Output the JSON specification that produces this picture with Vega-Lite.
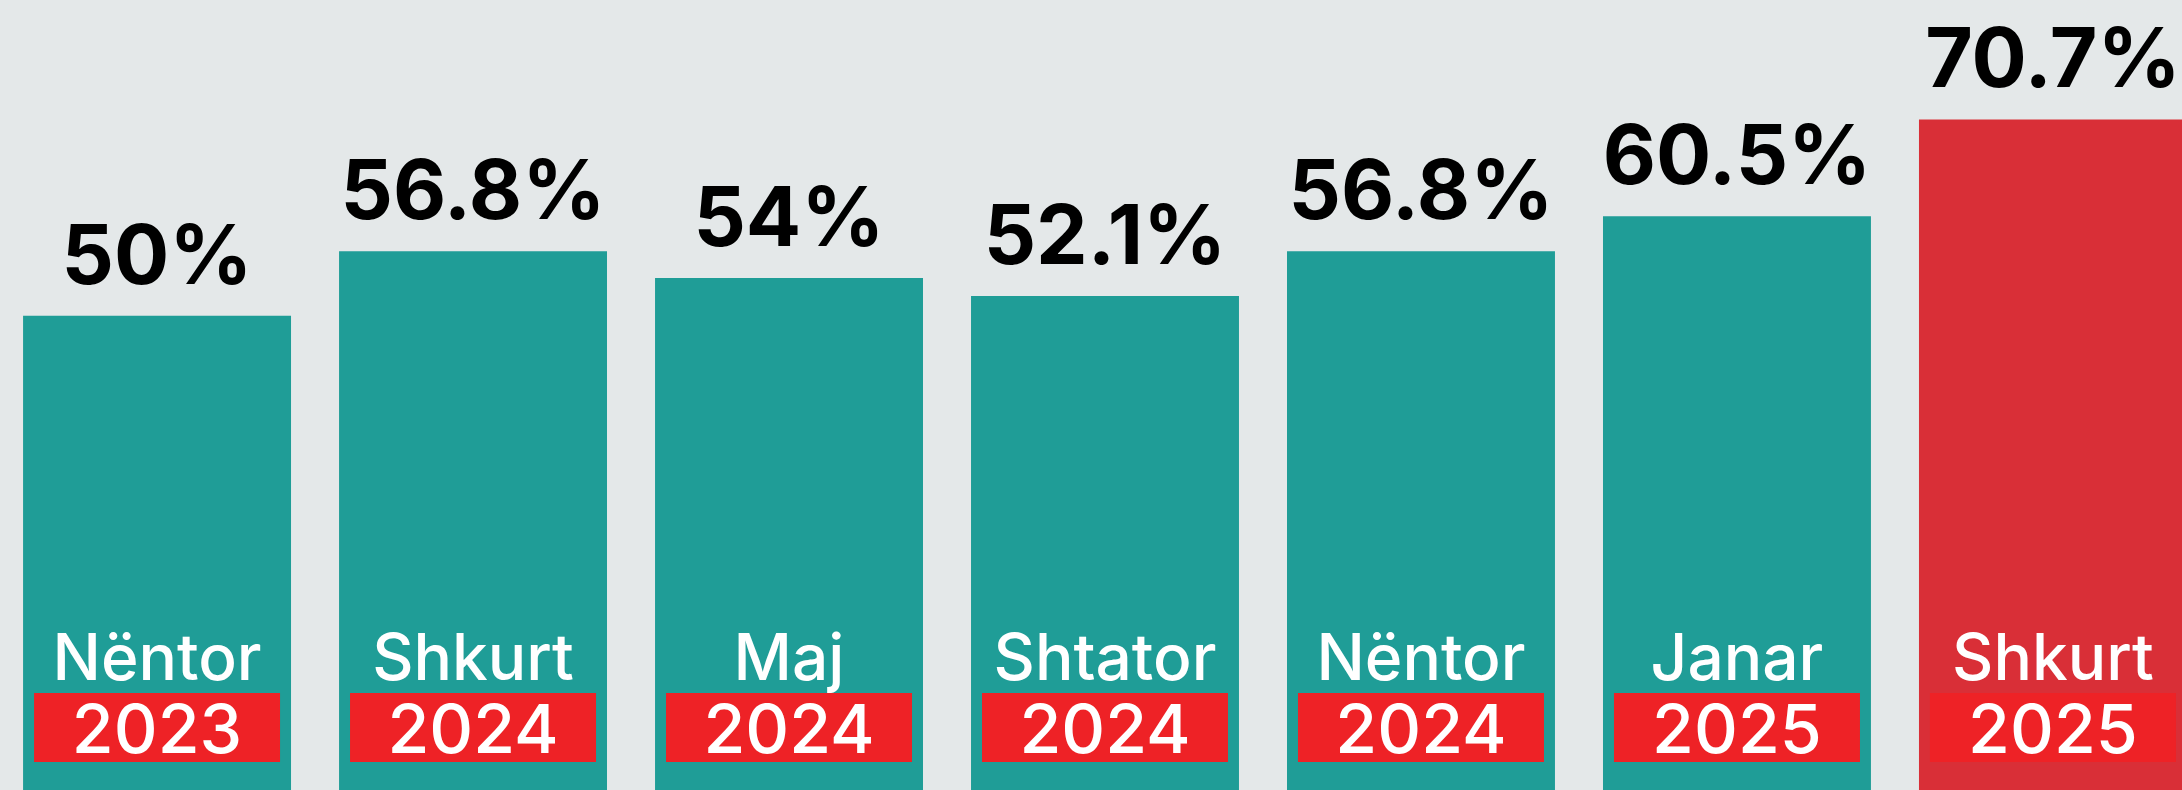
{
  "$schema": "https://vega.github.io/schema/vega-lite/v6.json",
  "width": 2182,
  "height": 790,
  "autosize": {"type": "none"},
  "padding": 0,
  "background": "#e4e8e9",
  "config": {"view": {"stroke": null}},
  "data": {"values": [
    {"period": "Nëntor 2023", "month": "Nëntor", "year": "2023", "value": 50, "label": "50%", "group": "past"},
    {"period": "Shkurt 2024", "month": "Shkurt", "year": "2024", "value": 56.8, "label": "56.8%", "group": "past"},
    {"period": "Maj 2024", "month": "Maj", "year": "2024", "value": 54, "label": "54%", "group": "past"},
    {"period": "Shtator 2024", "month": "Shtator", "year": "2024", "value": 52.1, "label": "52.1%", "group": "past"},
    {"period": "Nëntor 2024", "month": "Nëntor", "year": "2024", "value": 56.8, "label": "56.8%", "group": "past"},
    {"period": "Janar 2025", "month": "Janar", "year": "2025", "value": 60.5, "label": "60.5%", "group": "past"},
    {"period": "Shkurt 2025", "month": "Shkurt", "year": "2025", "value": 70.7, "label": "70.7%", "group": "latest"}
  ]},
  "encoding": {
    "x": {"field": "period", "type": "nominal", "sort": null, "axis": null,
          "scale": {"range": [0, 2210], "paddingInner": 0.152, "paddingOuter": 0.073}}
  },
  "layer": [
    {
      "mark": {"type": "bar"},
      "encoding": {
        "y": {"field": "value", "type": "quantitative", "axis": null,
              "scale": {"domain": [0, 83.3], "nice": false, "zero": true}},
        "color": {"field": "group", "type": "nominal", "legend": null,
                  "scale": {"domain": ["past", "latest"], "range": ["#1f9d97", "#d92f37"]}}
      }
    },
    {
      "mark": {"type": "text", "font": "Inter", "fontSize": 82, "fontWeight": "bold", "baseline": "alphabetic", "dy": -32, "color": "#000000"},
      "encoding": {
        "y": {"field": "value", "type": "quantitative"},
        "text": {"field": "label"}
      }
    },
    {
      "mark": {"type": "bar", "color": "#ee2226", "width": {"band": 0.918}},
      "encoding": {
        "y": {"datum": 10.23, "type": "quantitative"},
        "y2": {"datum": 2.95}
      }
    },
    {
      "mark": {"type": "text", "font": "Inter", "fontSize": 64, "fontWeight": 500, "baseline": "alphabetic", "color": "#ffffff"},
      "encoding": {
        "y": {"datum": 11.55, "type": "quantitative"},
        "text": {"field": "month"}
      }
    },
    {
      "mark": {"type": "text", "font": "Inter", "fontSize": 68, "fontWeight": 500, "baseline": "alphabetic", "color": "#ffffff"},
      "encoding": {
        "y": {"datum": 3.9, "type": "quantitative"},
        "text": {"field": "year"}
      }
    }
  ]
}
